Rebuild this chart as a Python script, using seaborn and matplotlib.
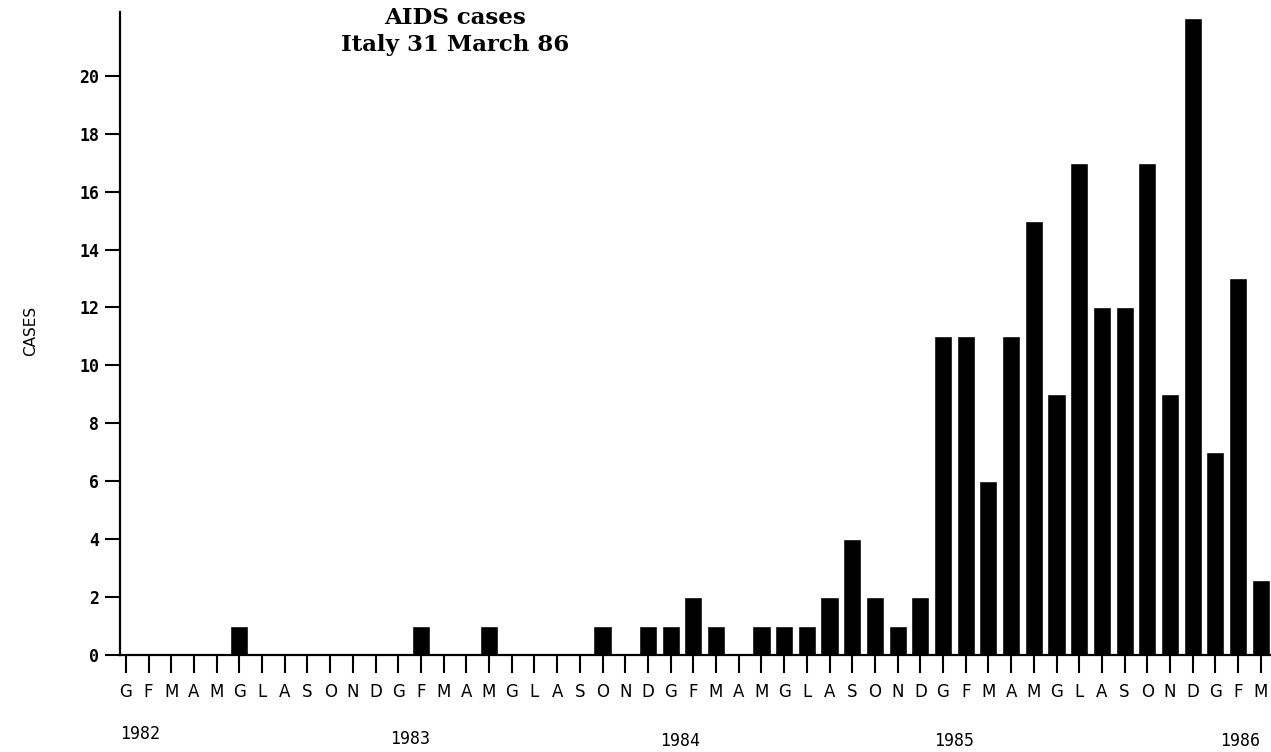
import matplotlib
matplotlib.use("Agg")
import matplotlib.pyplot as plt
import matplotlib.transforms as mtransforms
import numpy as np
import pandas as pd
import seaborn as sns

# ---- data ----
months = ["G", "F", "M", "A", "M", "G", "L", "A", "S", "O", "N", "D"]
cases_1982 = [0, 0, 0, 0, 0, 1, 0, 0, 0, 0, 0, 0]
cases_1983 = [0, 1, 0, 0, 1, 0, 0, 0, 0, 1, 0, 1]
cases_1984 = [1, 2, 1, 0, 1, 1, 1, 2, 4, 2, 1, 2]
cases_1985 = [11, 11, 6, 11, 15, 9, 17, 12, 12, 17, 9, 22]
cases_1986 = [7, 13, 2.6]
years = ["1982", "1983", "1984", "1985", "1986"]
y_ticks = [0, 2, 4, 6, 8, 10, 12, 14, 16, 18, 20]

cases = cases_1982 + cases_1983 + cases_1984 + cases_1985 + cases_1986
month_labels = (months * 5)[:len(cases)]
df = pd.DataFrame({"idx": np.arange(len(cases)), "cases": cases})

sns.set_theme(style="ticks")
plt.rcParams["font.family"] = ["DejaVu Sans"]
plt.rcParams["text.color"] = "black"
plt.rcParams["axes.labelcolor"] = "black"
plt.rcParams["xtick.color"] = "black"
plt.rcParams["ytick.color"] = "black"

fig = plt.figure(figsize=(12.71, 7.52), dpi=100)
ax = fig.add_axes([0.0944, 0.129, 0.9056, 0.855])

sns.barplot(data=df, x="idx", y="cases", color="black", width=0.8,
            saturation=1, ax=ax, errorbar=None)

ax.set_xlim(-0.26, 50.45)
ax.set_ylim(0, 22.2)

ax.set_yticks(y_ticks)
ax.set_yticklabels([str(v) for v in y_ticks], family="DejaVu Sans Mono",
                   fontsize=12, fontweight="bold", color="black")
ax.set_xticks(df["idx"])
ax.set_xticklabels(month_labels, fontsize=12, color="black")

ax.tick_params(axis="y", direction="out", length=11, width=1.5, pad=4, colors="black")
ax.tick_params(axis="x", direction="out", length=13, width=1.5, pad=7, colors="black")

for side in ["top", "right"]:
    ax.spines[side].set_visible(False)
for side in ["left", "bottom"]:
    ax.spines[side].set_color("black")
    ax.spines[side].set_linewidth(1.6)

ax.set_xlabel("")
ax.set_ylabel("")
ax.grid(False)
ax.set_facecolor("white")

# year labels under the month letters
trans = mtransforms.blended_transform_factory(ax.transData, fig.transFigure)
year_x = [0.62, 12.5, 24.4, 36.5, 49.1]
year_y = [0.024, 0.017, 0.014, 0.014, 0.014]
for lab, xx, yy in zip(years, year_x, year_y):
    ax.text(xx, yy, lab, transform=trans, ha="center", va="center",
            fontsize=12, family="DejaVu Sans Mono", color="black")

# y-axis title
fig.text(0.024, 0.56, "CASES", rotation=90, ha="center", va="center",
         fontsize=11, color="black")

# chart title
fig.text(0.358, 0.976, "AIDS cases", ha="center", va="center",
         family="DejaVu Serif", fontweight="bold", fontsize=16.5, color="black")
fig.text(0.358, 0.940, "Italy 31 March 86", ha="center", va="center",
         family="DejaVu Serif", fontweight="bold", fontsize=16.5, color="black")

fig.savefig("out.png", dpi=100, facecolor="white")
